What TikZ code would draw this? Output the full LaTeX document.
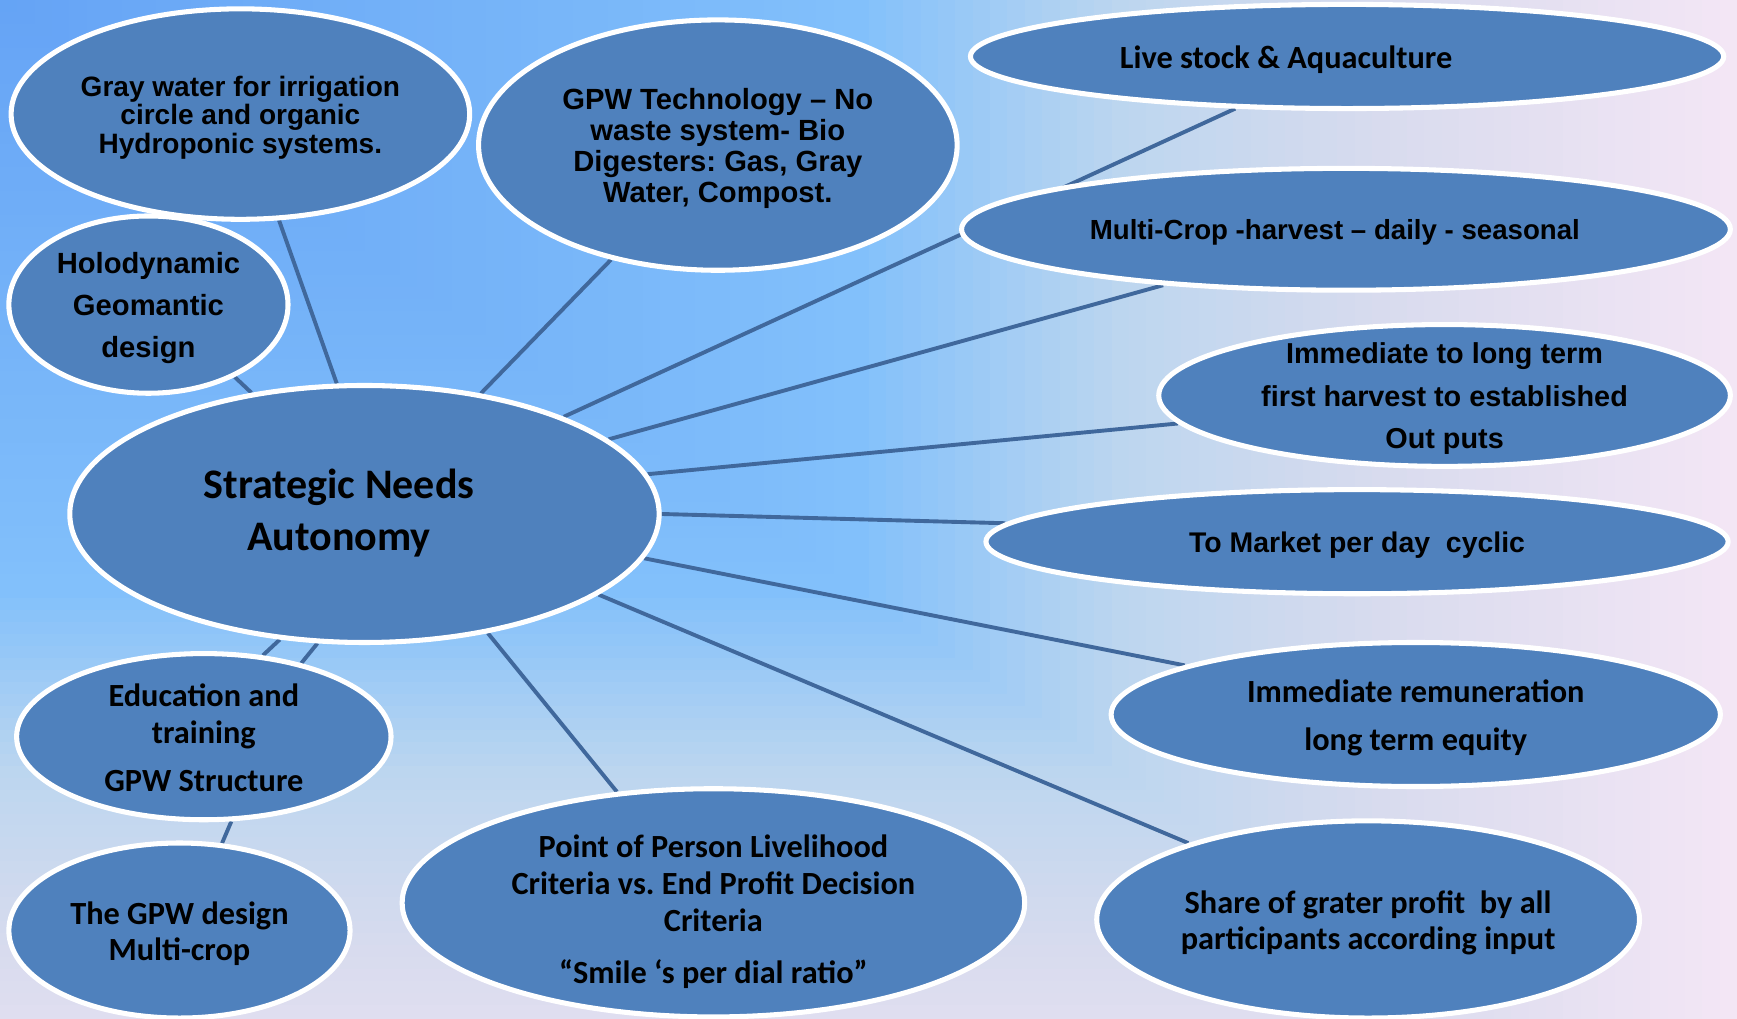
\documentclass[tikz,border=0pt]{standalone}
\usepackage{fontspec}
\newfontfamily\calibri{Carlito}
\newfontfamily\arial{Liberation Sans}
\usetikzlibrary{shapes,backgrounds,positioning,calc}
\frenchspacing

\definecolor{bubbleblue}{RGB}{79,129,189}
\definecolor{spokeblue}{RGB}{64,104,156}
% corner gradient stops
\definecolor{bgA}{RGB}{101,163,245}
\definecolor{bgB}{RGB}{130,192,251}
\definecolor{bgC}{RGB}{188,214,239}
\definecolor{bgD}{RGB}{216,219,238}
\definecolor{bgE}{RGB}{243,230,245}

\tikzset{
  bubble/.style={ellipse, draw=white, line width=1.3pt, fill=bubbleblue, inner sep=0pt},
  calibritext/.style={font=\calibri\bfseries\fontsize{8.3pt}{9.4pt}\selectfont, align=center, text=black, yshift=-0.03cm},
  arialtext/.style={font=\arial\bfseries\fontsize{7.3pt}{7.8pt}\selectfont, align=center, text=black, yshift=-0.03cm},
  spoke/.style={draw=spokeblue, line width=1pt}
}

\begin{document}
\begin{tikzpicture}

  \useasboundingbox (0,0) rectangle (15.68,9.19);

  %% background, lightening from the top left corner
  \begin{scope}[on background layer]
    \clip (0,0) rectangle (15.68,9.19);
    \foreach \i in {100,99,...,1}
    {
      \pgfmathsetmacro\t{\i/100}
      \ifdim\t pt<0.5pt
        \pgfmathsetmacro\p{100*\t/0.5}\colorlet{bgmix}{bgB!\p!bgA}
      \else\ifdim\t pt<0.65pt
        \pgfmathsetmacro\p{100*(\t-0.5)/0.15}\colorlet{bgmix}{bgC!\p!bgB}
      \else\ifdim\t pt<0.8pt
        \pgfmathsetmacro\p{100*(\t-0.65)/0.15}\colorlet{bgmix}{bgD!\p!bgC}
      \else
        \pgfmathsetmacro\p{100*(\t-0.8)/0.2}\colorlet{bgmix}{bgE!\p!bgD}
      \fi\fi\fi
      \fill[bgmix] (0,9.19) rectangle ({15.68*\t},{9.19-10.8*\t});
    }
  \end{scope}

  %% centre
  \node [bubble, minimum width=5.32cm, minimum height=2.32cm,
    label={[calibritext, font=\calibri\bfseries\fontsize{10.8pt}{13.4pt}\selectfont, xshift=-0.23cm, yshift=0.04cm]center:{Strategic Needs\\Autonomy}}] (ST) at (3.29,4.55) {};

  %% left column
  \node [bubble, minimum width=4.14cm, minimum height=1.90cm,
    label={[arialtext, font=\arial\bfseries\fontsize{7.2pt}{7.3pt}\selectfont]center:{Gray water for irrigation\\circle and organic\\Hydroponic systems.}}] (GW) at (2.17,8.16) {};

  \node [bubble, minimum width=2.52cm, minimum height=1.60cm,
    label={[arialtext, font=\arial\bfseries\fontsize{7.5pt}{10.7pt}\selectfont]center:{Holodynamic\\Geomantic\\design}}] (HD) at (1.34,6.44) {};

  \node [bubble, minimum width=3.38cm, minimum height=1.50cm,
    label={[calibritext, yshift=0.02cm]center:{Education and\\training\\[0.1cm]GPW Structure}}] (ED) at (1.84,2.54) {};

  \node [bubble, minimum width=3.08cm, minimum height=1.58cm,
    label={[calibritext]center:{The GPW design\\Multi-crop}}] (GD) at (1.62,0.79) {};

  %% top and bottom
  \node [bubble, minimum width=4.32cm, minimum height=2.26cm,
    label={[arialtext, font=\arial\bfseries\fontsize{7.5pt}{7.9pt}\selectfont]center:{GPW Technology – No\\waste system- Bio\\Digesters: Gas, Gray\\Water, Compost.}}] (GT) at (6.48,7.88) {};

  \node [bubble, minimum width=5.62cm, minimum height=2.06cm,
    label={[calibritext, yshift=-0.05cm]center:{Point of Person Livelihood\\Criteria vs. End Profit Decision\\Criteria\\[0.14cm]“Smile ‘s per dial ratio”}}] (PP) at (6.44,1.04) {};

  %% right column
  \node [bubble, minimum width=6.80cm, minimum height=0.94cm,
    label={[calibritext, xshift=-0.55cm]center:{Live stock \& Aquaculture}}] (LS) at (12.16,8.68) {};

  \node [bubble, minimum width=6.94cm, minimum height=1.10cm,
    label={[arialtext, font=\arial\bfseries\fontsize{7.1pt}{7.8pt}\selectfont, xshift=-0.10cm]center:{Multi-Crop -harvest – daily - seasonal}}] (MC) at (12.15,7.12) {};

  \node [bubble, minimum width=5.16cm, minimum height=1.28cm,
    label={[arialtext, font=\arial\bfseries\fontsize{7.4pt}{10.9pt}\selectfont]center:{Immediate to long term\\first harvest to established\\Out puts}}] (IL) at (13.04,5.62) {};

  \node [bubble, minimum width=6.70cm, minimum height=0.94cm,
    label={[arialtext]center:{To Market per day\ \ cyclic}}] (TM) at (12.25,4.30) {};

  \node [bubble, minimum width=5.50cm, minimum height=1.30cm,
    label={[calibritext]center:{Immediate remuneration\\[0.1cm]long term equity}}] (IR) at (12.78,2.74) {};

  \node [bubble, minimum width=4.90cm, minimum height=1.78cm,
    label={[calibritext]center:{Share of grater profit\ \ by all\\participants according input}}] (SH) at (12.35,0.89) {};

  %% spokes, behind the bubbles
  \begin{scope}[on background layer]
    \draw[spoke] (ST.102) -- (GW.-70);
    \draw[spoke] (ST.133) -- (HD.-40);
    \draw[spoke] (ST.46) -- (GT.-133);
    \draw[spoke] (ST.26) -- (LS.-155);
    \draw[spoke] (ST.17.5) -- (MC.-163);
    \draw[spoke] (ST.8) -- (IL.-174);
    \draw[spoke] (ST.0) -- (TM.177.5);
    \draw[spoke] (ST.-9) -- (IR.168);
    \draw[spoke] (ST.-19) -- (SH.157);
    \draw[spoke] (ST.-44.5) -- (PP.131);
    \draw[spoke] (ST.-124.5) -- (ED.54);
    \draw[spoke] (ST.-110) -- (ED.37);
    \draw[spoke] (ED.-72) -- (GD.64);
  \end{scope}

\end{tikzpicture}
\end{document}
